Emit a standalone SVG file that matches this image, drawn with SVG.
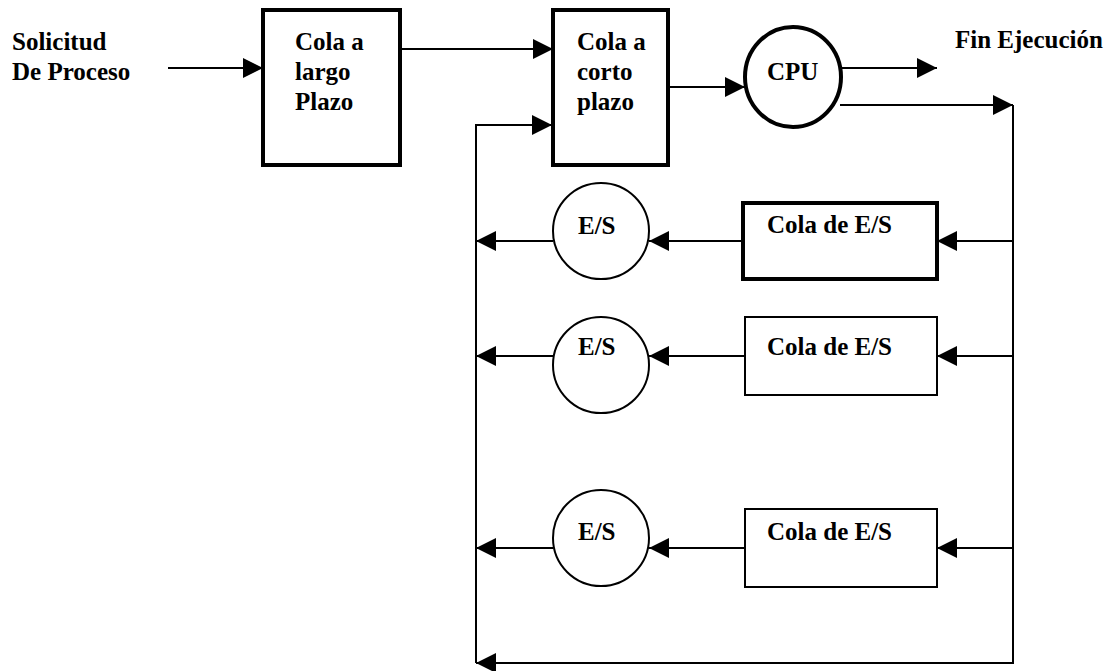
<svg xmlns="http://www.w3.org/2000/svg" width="1112" height="671" viewBox="0 0 1112 671">
  <defs>
    <marker id="arrow" markerUnits="userSpaceOnUse" markerWidth="20" markerHeight="20" refX="20" refY="10" orient="auto">
      <path d="M0,0 L20,10 L0,20 Z" fill="#000"/>
    </marker>
    <style>
      text { font-family: "Liberation Serif", "Times New Roman", serif; font-weight: bold; font-size: 25px; fill: #000; }
      .thick { fill: #fff; stroke: #000; stroke-width: 4; }
      .thin { fill: #fff; stroke: #000; stroke-width: 2; }
      .conn { fill: none; stroke: #000; stroke-width: 2; }
    </style>
  </defs>

  <rect width="1112" height="671" fill="#fff"/>

  <!-- connectors -->
  <g id="connectors">
    <path class="conn" d="M168,68 H263" marker-end="url(#arrow)"/>
    <path class="conn" d="M400,49 H553" marker-end="url(#arrow)"/>
    <path class="conn" d="M668,87 H745" marker-end="url(#arrow)"/>
    <path class="conn" d="M842,68 H937" marker-end="url(#arrow)"/>
    <path class="conn" d="M840,105 H1013" marker-end="url(#arrow)"/>
    <path class="conn" d="M1013,105 V663 H476" marker-end="url(#arrow)"/>
    <path class="conn" d="M476,663 V125 H552" marker-end="url(#arrow)"/>
    <!-- I/O branch 1 -->
    <path class="conn" d="M1013,241 H937" marker-end="url(#arrow)"/>
    <path class="conn" d="M743,241 H649" marker-end="url(#arrow)"/>
    <path class="conn" d="M553,241 H476" marker-end="url(#arrow)"/>
    <!-- I/O branch 2 -->
    <path class="conn" d="M1013,356 H937" marker-end="url(#arrow)"/>
    <path class="conn" d="M745,356 H649" marker-end="url(#arrow)"/>
    <path class="conn" d="M553,356 H476" marker-end="url(#arrow)"/>
    <!-- I/O branch 3 -->
    <path class="conn" d="M1013,548 H937" marker-end="url(#arrow)"/>
    <path class="conn" d="M745,548 H649" marker-end="url(#arrow)"/>
    <path class="conn" d="M553,548 H476" marker-end="url(#arrow)"/>
  </g>

  <g id="solicitud">
    <text x="12" y="50">Solicitud</text>
    <text x="12" y="80">De Proceso</text>
  </g>

  <g id="cola-largo-plazo">
    <rect class="thick" x="263" y="10" width="137" height="155"/>
    <text x="295" y="50">Cola a</text>
    <text x="295" y="80">largo</text>
    <text x="295" y="110">Plazo</text>
  </g>

  <g id="cola-corto-plazo">
    <rect class="thick" x="553" y="10" width="115" height="155"/>
    <text x="577" y="50">Cola a</text>
    <text x="577" y="80">corto</text>
    <text x="577" y="110">plazo</text>
  </g>

  <g id="cpu">
    <ellipse class="thick" cx="793" cy="77" rx="48" ry="50"/>
    <text x="767" y="80">CPU</text>
  </g>

  <g id="fin-ejecucion">
    <text x="955" y="48">Fin Ejecución</text>
  </g>

  <g id="cola-es-1">
    <rect class="thick" x="743" y="203" width="194" height="76"/>
    <text x="767" y="233">Cola de E/S</text>
  </g>
  <g id="es-1">
    <ellipse class="thin" cx="601" cy="231" rx="48" ry="48"/>
    <text x="578" y="234">E/S</text>
  </g>

  <g id="cola-es-2">
    <rect class="thin" x="745" y="317" width="192" height="78"/>
    <text x="767" y="355">Cola de E/S</text>
  </g>
  <g id="es-2">
    <ellipse class="thin" cx="601" cy="365" rx="48" ry="48"/>
    <text x="578" y="355">E/S</text>
  </g>

  <g id="cola-es-3">
    <rect class="thin" x="745" y="509" width="192" height="78"/>
    <text x="767" y="540">Cola de E/S</text>
  </g>
  <g id="es-3">
    <ellipse class="thin" cx="601" cy="538" rx="48" ry="48"/>
    <text x="578" y="540">E/S</text>
  </g>
</svg>
